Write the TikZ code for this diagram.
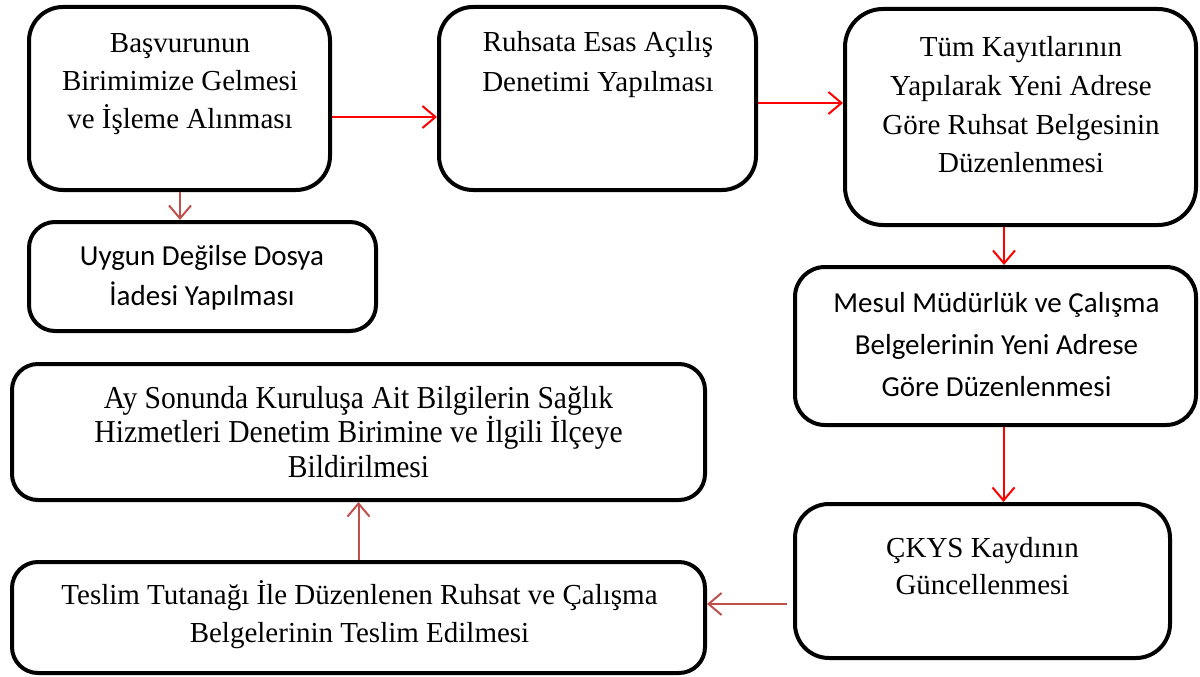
\documentclass[tikz,border=0pt]{standalone}
\usepackage{fontspec}
\setmainfont{Liberation Serif}
\newfontfamily\calibrifont{Carlito}
\usetikzlibrary{arrows.meta}
\definecolor{flowred}{RGB}{255,0,0}
\definecolor{softred}{RGB}{192,80,77}

\begin{document}
\begin{tikzpicture}[x=1pt,y=-1pt,
  stage/.style={draw=black, line width=4pt, rounded corners=30pt, inner sep=0pt, fill=white},
  label/.style={align=center, inner sep=0pt, font=\fontsize{29}{38}\selectfont},
  sanslabel/.style={align=center, inner sep=0pt, font=\calibrifont\fontsize{29}{41}\selectfont},
  flow/.style={draw=flowred, line width=2pt, -{Straight Barb[length=13pt,width=22pt]}},
  side/.style={flow, draw=softred},
]
\useasboundingbox (0,0) rectangle (1200,677);

% process boxes
\node[stage, rounded corners=34pt, minimum width=301pt, minimum height=183pt] (b1) at (179.5,98.5) {};
\node[stage, rounded corners=26pt, minimum width=347pt, minimum height=109pt] (uygun) at (202.5,276.5) {};
\node[stage, rounded corners=34pt, minimum width=317pt, minimum height=183pt] (b2) at (597.5,98.5) {};
\node[stage, rounded corners=38pt, minimum width=351pt, minimum height=216pt] (b3) at (1020.5,117) {};
\node[stage, rounded corners=30pt, minimum width=401pt, minimum height=158pt] (mesul) at (995.5,346) {};
\node[stage, rounded corners=34pt, minimum width=375pt, minimum height=154pt] (ckys) at (982.5,581) {};
\node[stage, rounded corners=26pt, minimum width=693pt, minimum height=136pt] (ay) at (358.5,432) {};
\node[stage, rounded corners=26pt, minimum width=693pt, minimum height=111pt] (teslim) at (358.5,617.5) {};

% box texts
\node[label] (t1) at (180,84) {Başvurunun\\Birimimize Gelmesi\\ve İşleme Alınması};
\node[sanslabel, font=\calibrifont\fontsize{29}{40}\selectfont] (tuygun) at (202,278) {Uygun Değilse Dosya\\İadesi Yapılması};
\node[label, font=\fontsize{29}{40}\selectfont] (t2) at (598,65) {Ruhsata Esas Açılış\\Denetimi Yapılması};
\node[label, font=\fontsize{29}{38.7}\selectfont] (t3) at (1021,105) {Tüm Kayıtlarının\\Yapılarak Yeni Adrese\\Göre Ruhsat Belgesinin\\Düzenlenmesi};
\node[sanslabel, font=\calibrifont\fontsize{29}{42}\selectfont] (tmesul) at (996.5,345) {Mesul Müdürlük ve Çalışma\\Belgelerinin Yeni Adrese\\Göre Düzenlenmesi};
\node[label, font=\fontsize{29}{37}\selectfont] (tckys) at (982.5,566.5) {ÇKYS Kaydının\\Güncellenmesi};
% slightly taller lettering in this box
\begin{scope}[shift={(358.5,432)}, xscale=1.02, yscale=1.1]
  \node[label, transform shape, font=\fontsize{29}{31}\selectfont] (tay) at (0,0) {Ay Sonunda Kuruluşa Ait Bilgilerin Sağlık\\Hizmetleri Denetim Birimine ve İlgili İlçeye\\Bildirilmesi};
\end{scope}
\node[label, font=\fontsize{29}{38}\selectfont] (tteslim) at (359.5,615) {Teslim Tutanağı İle Düzenlenen Ruhsat ve Çalışma\\Belgelerinin Teslim Edilmesi};

% connectors
\draw[flow] ([yshift=-18.5pt]b1.east) -- ([yshift=-18.5pt]b2.west);
\draw[flow] ([yshift=-4.5pt]b2.east) -- ([yshift=14pt]b3.west);
\draw[side] ([xshift=0.5pt]b1.south) -- ([xshift=-22.5pt]uygun.north);
\draw[flow] ([xshift=-16.5pt]b3.south) -- ([xshift=8.5pt]mesul.north);
\draw[flow] ([xshift=8pt]mesul.south) -- ([xshift=21pt]ckys.north);
\draw[side, shorten <=6pt] ([yshift=-23pt]ckys.west) -- ([yshift=13.5pt]teslim.east);
\draw[side] (teslim.north) -- (ay.south);
\end{tikzpicture}
\end{document}
